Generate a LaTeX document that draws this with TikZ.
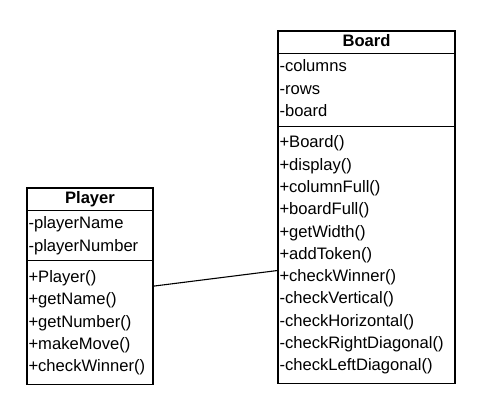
\documentclass[tikz,border=0pt]{standalone}
\usepackage{fontspec}
\setmainfont{Liberation Sans}
\usetikzlibrary{positioning,fit}

\newcommand{\umlfont}{\fontsize{16.6}{22.3}\selectfont}

\begin{document}
\begin{tikzpicture}[x=1pt, y=1pt, line width=1.1pt,
	   part/.style={draw, anchor=north west, outer sep=0pt, inner xsep=1.5pt,
	     align=left, font=\umlfont, execute at begin node=\strut, execute at end node=\strut},
	   title/.style={part, align=center, inner ysep=0pt, font=\umlfont\bfseries},
	   attrs/.style={part, inner ysep=3pt},
	   ops/.style={part, inner ysep=6pt},
	   boardw/.style={text width=174pt},
	   playerw/.style={text width=123pt}]
	  \useasboundingbox (0,0) rectangle (501,-411);
	  % Board class
	  \node[title, boardw] (btitle) at (278,-31) {Board};
	  \node[attrs, boardw, below=0pt of btitle] (battrs) {-columns\\ -rows\\ -board};
	  \node[ops, boardw, below=0pt of battrs] (bops) {+Board()\\ +display()\\ +columnFull()\\
	    +boardFull()\\ +getWidth()\\ +addToken()\\ +checkWinner()\\ -checkVertical()\\
	    -checkHorizontal()\\ -checkRightDiagonal()\\ -checkLeftDiagonal()};
	  % Player class
	  \node[title, playerw] (ptitle) at (27,-188) {Player};
	  \node[attrs, playerw, below=0pt of ptitle] (pattrs) {-playerName\\ -playerNumber};
	  \node[ops, playerw, below=0pt of pattrs] (pops) {+Player()\\ +getName()\\ +getNumber()\\
	    +makeMove()\\ +checkWinner()};
	  \node[fit=(ptitle)(pops), inner sep=0pt, outer sep=0pt] (player) {};
	  \draw (player.east) -- (bops.190);
	\end{tikzpicture}
\end{document}
